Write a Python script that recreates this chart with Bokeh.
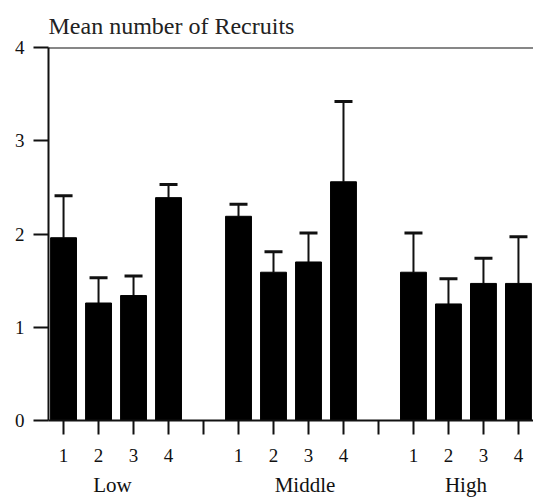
from bokeh.plotting import figure
from bokeh.models import (ColumnDataSource, FixedTicker, LinearAxis, Range1d,
                          Whisker, TeeHead, Span)
from bokeh.embed import file_html
from bokeh.resources import INLINE

# ---- data ----
groups = ["Low", "Middle", "High"]
sites = ["1", "2", "3", "4"]
low_mean = [1.96, 1.26, 1.34, 2.39]
low_upper = [2.41, 1.53, 1.55, 2.53]
mid_mean = [2.19, 1.59, 1.70, 2.56]
mid_upper = [2.32, 1.81, 2.01, 3.42]
high_mean = [1.59, 1.25, 1.47, 1.47]
high_upper = [2.01, 1.52, 1.74, 1.97]
y_ticks = [0, 1, 2, 3, 4]
title_text = "Mean number of Recruits"

means = [low_mean, mid_mean, high_mean]
uppers = [low_upper, mid_upper, high_upper]

xs, tops, ups = [], [], []
tick_pos, tick_lab = [], {}
group_centers = []
for gi, g in enumerate(groups):
    base = gi * (len(sites) + 1)
    for si, s in enumerate(sites):
        xs.append(base + si)
        tops.append(means[gi][si])
        ups.append(uppers[gi][si])
        tick_pos.append(base + si)
        tick_lab[base + si] = s
    if gi < len(groups) - 1:
        tick_pos.append(base + len(sites))
        tick_lab[base + len(sites)] = ""
    group_centers.append(base + (len(sites) - 1) / 2)

# hand-lettered group labels in the reference sit slightly off-centre
group_offsets = [-0.1, 0.4, 0.0]
group_pos = [c + o for c, o in zip(group_centers, group_offsets)]

src = ColumnDataSource(dict(x=xs, top=tops, upper=ups))

FONT = "Liberation Serif"
INK = "#111111"

p = figure(width=533, height=500, output_backend="svg", toolbar_location=None,
           x_range=Range1d(-0.43, 13.43), y_range=Range1d(0, 4),
           min_border_left=48, min_border_right=0, min_border_top=47,
           min_border_bottom=80, x_axis_location=None, y_axis_location=None)
p.background_fill_color = "white"
p.border_fill_color = "white"
p.outline_line_color = None
p.grid.visible = False

p.vbar(x="x", top="top", bottom=0, width=0.74, source=src,
       fill_color="#000000", line_color="#000000")

w = Whisker(base="x", lower="top", upper="upper", source=src,
            line_color=INK, line_width=2,
            lower_head=None,
            upper_head=TeeHead(size=18, line_width=3, line_color=INK))
p.add_layout(w)

# top border line at y = 4
p.add_layout(Span(location=4, dimension="width", line_color=INK, line_width=2))

# y axis
ya = LinearAxis(ticker=FixedTicker(ticks=y_ticks))
ya.major_tick_out = 15
ya.major_tick_in = 0
ya.minor_tick_line_color = None
ya.major_tick_line_width = 2
ya.axis_line_width = 2
ya.axis_line_color = INK
ya.major_tick_line_color = INK
ya.major_label_standoff = 9
ya.major_label_text_font = FONT
ya.major_label_text_font_size = "19px"
ya.major_label_text_color = INK
p.add_layout(ya, "left")

# x axis (site numbers)
xa = LinearAxis(ticker=FixedTicker(ticks=tick_pos),
                major_label_overrides=tick_lab)
xa.major_tick_out = 14
xa.major_tick_in = 0
xa.minor_tick_line_color = None
xa.major_tick_line_width = 2
xa.axis_line_width = 2
xa.axis_line_color = INK
xa.major_tick_line_color = INK
xa.major_label_standoff = 14
xa.major_label_text_font = FONT
xa.major_label_text_font_size = "19px"
xa.major_label_text_color = INK
p.add_layout(xa, "below")

# group label axis
ga = LinearAxis(ticker=FixedTicker(ticks=group_pos),
                major_label_overrides={gp: g for gp, g in zip(group_pos, groups)})
ga.axis_line_color = None
ga.major_tick_line_color = None
ga.minor_tick_line_color = None
ga.major_tick_out = 0
ga.major_tick_in = 0
ga.major_label_standoff = 8
ga.major_label_text_font = FONT
ga.major_label_text_font_size = "21px"
ga.major_label_text_color = INK
p.add_layout(ga, "below")

p.title.text = title_text
p.title.align = "left"
p.title.text_font = FONT
p.title.text_font_size = "24px"
p.title.text_font_style = "normal"
p.title.text_color = "#222222"
p.title.standoff = 18

open("out.html", "w").write(file_html(p, INLINE))
